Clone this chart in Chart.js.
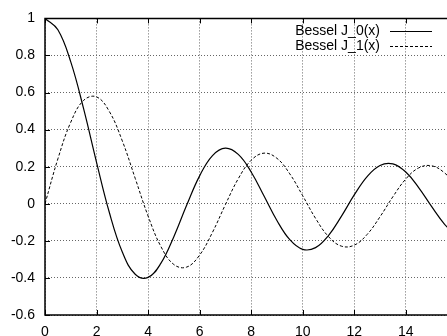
<!DOCTYPE html>
<html>
<head>
<meta charset="utf-8">
<script src="https://cdn.jsdelivr.net/npm/chart.js@4/dist/chart.umd.min.js"></script>
<style>
  body { margin: 0; background: #fff; }
  canvas { display: block; }
</style>
</head>
<body>
<canvas id="myChart" width="447" height="336"></canvas>
<script>
// x positions (step 0.5)
const xs = [0, 0.5, 1, 1.5, 2, 2.5, 3, 3.5, 4, 4.5, 5, 5.5, 6, 6.5, 7, 7.5,
            8, 8.5, 9, 9.5, 10, 10.5, 11, 11.5, 12, 12.5, 13, 13.5, 14, 14.5, 15, 15.5, 16];

// Bessel J_0(x)
const j0 = [1, 0.9385, 0.7652, 0.5118, 0.2239, -0.0484, -0.2601, -0.3801, -0.3971, -0.3205,
            -0.1776, -0.0068, 0.1506, 0.2601, 0.3001, 0.2663, 0.1717, 0.0419, -0.0903, -0.1939,
            -0.2459, -0.2366, -0.1712, -0.0677, 0.0477, 0.1469, 0.2069, 0.2150, 0.1711, 0.0875,
            -0.0142, -0.1092, -0.1749];

// Bessel J_1(x)
const j1 = [0, 0.2423, 0.4401, 0.5579, 0.5767, 0.4971, 0.3391, 0.1374, -0.0660, -0.2311,
            -0.3276, -0.3414, -0.2767, -0.1538, -0.0047, 0.1352, 0.2346, 0.2731, 0.2453, 0.1613,
            0.0435, -0.0789, -0.1768, -0.2284, -0.2234, -0.1655, -0.0703, 0.0380, 0.1334, 0.1934,
            0.2051, 0.1672, 0.0904];

const seriesLabels = ['Bessel J_0(x)', 'Bessel J_1(x)'];

const xTicks = [0, 2, 4, 6, 8, 10, 12, 14];
const yTicks = ['-0.6', '-0.4', '-0.2', '0', '0.2', '0.4', '0.6', '0.8', '1'];

const font = "'Liberation Sans', Arial, sans-serif";

function toPoints(ys) {
    return xs.map(function(x, i) { return { x: x, y: ys[i] }; });
}

// gnuplot-ish frame: border, inward ticks, legend in the top right
const frame = {
    id: 'frame',
    afterDatasetsDraw(chart) {
        const c = chart.ctx;
        const a = chart.chartArea;
        const sx = chart.scales.x, sy = chart.scales.y;
        c.save();
        c.strokeStyle = '#000';
        c.lineWidth = 1.5;
        c.beginPath();
        c.moveTo(a.right + 2, a.top);
        c.lineTo(a.left, a.top);
        c.lineTo(a.left, a.bottom);
        c.lineTo(a.right + 2, a.bottom);
        c.stroke();

        c.lineWidth = 1;
        c.beginPath();
        xTicks.forEach(function(v) {
            const px = Math.round(sx.getPixelForValue(v)) + 0.5;
            c.moveTo(px, a.bottom); c.lineTo(px, a.bottom - 5);
            c.moveTo(px, a.top); c.lineTo(px, a.top + 5);
        });
        yTicks.forEach(function(t) {
            const py = Math.round(sy.getPixelForValue(parseFloat(t))) + 0.5;
            c.moveTo(a.left, py); c.lineTo(a.left + 5, py);
        });
        c.stroke();

        // legend
        c.font = '14px ' + font;
        c.fillStyle = '#000';
        c.textAlign = 'right';
        c.textBaseline = 'middle';
        chart.data.datasets.forEach(function(ds, i) {
            const y = Math.round(a.top + 13 + i * 15);
            c.fillText(ds.label, 380, y);
            c.setLineDash(ds.borderDash || []);
            c.lineWidth = 1;
            c.beginPath();
            c.moveTo(390, y + 0.5);
            c.lineTo(432, y + 0.5);
            c.stroke();
        });
        c.restore();
    }
};

const ctx = document.getElementById('myChart').getContext('2d');
const myChart = new Chart(ctx, {
    type: 'line',
    data: {
        datasets: [
            {
                label: seriesLabels[0],
                data: toPoints(j0),
                borderColor: '#000',
                borderWidth: 1.2,
                pointRadius: 0,
                tension: 0.4,
                fill: false,
            },
            {
                label: seriesLabels[1],
                data: toPoints(j1),
                borderColor: '#000',
                borderWidth: 1,
                borderDash: [3, 2],
                pointRadius: 0,
                tension: 0.4,
                fill: false,
            },
        ],
    },
    options: {
        responsive: false,
        animation: false,
        layout: { padding: { top: 16, right: 0, left: 0, bottom: 0 } },
        plugins: {
            legend: { display: false },
            tooltip: { enabled: false },
        },
        scales: {
            x: {
                type: 'linear',
                min: 0,
                max: 15.6,
                afterBuildTicks: function(s) {
                    s.ticks = xTicks.map(function(v) { return { value: v }; });
                },
                afterFit: function(s) { s.height = 21; },
                ticks: {
                    color: '#000',
                    padding: 9,
                    maxRotation: 0,
                    font: { family: font, size: 14 },
                },
                grid: {
                    color: '#666',
                    lineWidth: 1,
                    drawTicks: false,
                },
                border: { display: false, dash: [1, 2] },
            },
            y: {
                min: -0.6,
                max: 1,
                afterBuildTicks: function(s) {
                    s.ticks = yTicks.map(function(t) { return { value: parseFloat(t) }; });
                },
                afterFit: function(s) { s.width = 45; },
                ticks: {
                    color: '#000',
                    padding: 10,
                    font: { family: font, size: 14 },
                    callback: function(value) {
                        const t = yTicks.find(function(l) { return Math.abs(parseFloat(l) - value) < 1e-9; });
                        return t !== undefined ? t : '';
                    },
                },
                grid: {
                    color: '#666',
                    lineWidth: 1,
                    drawTicks: false,
                },
                border: { display: false, dash: [1, 2] },
            }
        }
    },
    plugins: [frame]
});
</script>
</body>
</html>
